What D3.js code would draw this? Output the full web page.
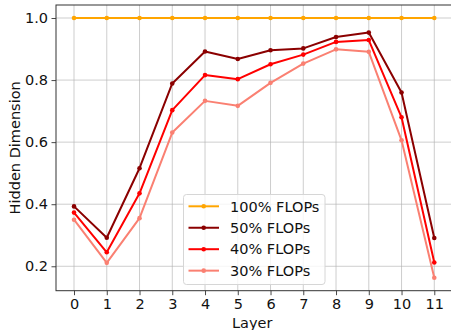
<!DOCTYPE html>
<html>
<head>
<meta charset="utf-8">
<script src="https://cdn.jsdelivr.net/npm/d3@7"></script>
<style>
  body { margin: 0; background: #fff; }
  svg { display: block; font-family: "DejaVu Sans", sans-serif; }
</style>
</head>
<body>
<svg id="chart" width="451" height="330"></svg>
<script>
const layers = [0, 1, 2, 3, 4, 5, 6, 7, 8, 9, 10, 11];
const seriesNames = ["100% FLOPs", "50% FLOPs", "40% FLOPs", "30% FLOPs"];
const seriesColors = ["#FFA500", "#8B0000", "#FF0000", "#FA8072"];
const flops100 = [1, 1, 1, 1, 1, 1, 1, 1, 1, 1, 1, 1];
const flops50 = [0.393, 0.292, 0.516, 0.789, 0.892, 0.868, 0.896, 0.902, 0.939, 0.953, 0.760, 0.291];
const flops40 = [0.373, 0.245, 0.435, 0.703, 0.816, 0.803, 0.851, 0.882, 0.923, 0.929, 0.680, 0.212];
const flops30 = [0.350, 0.211, 0.355, 0.631, 0.733, 0.717, 0.791, 0.853, 0.899, 0.891, 0.606, 0.163];
const yTicks = [0.2, 0.4, 0.6, 0.8, 1.0];
const xLabel = "Layer";
const yLabel = "Hidden Dimension";

const allSeries = [flops100, flops50, flops40, flops30];

(function () {
const svg = d3.select("#chart");
const mLeft = 56, mRight = 452.3, mTop = 5, mBottom = 290.7;
const fs = "14.5px";

const x = d3.scaleLinear().domain([-0.55, 11.55]).range([mLeft, mRight]);
const y = d3.scaleLinear().domain([0.1213, 1.0419]).range([mBottom, mTop]);

// grid
const g = svg.append("g");
g.selectAll(".vgrid").data(layers).enter().append("line")
  .attr("x1", d => x(d)).attr("x2", d => x(d))
  .attr("y1", mTop).attr("y2", mBottom)
  .attr("stroke", "#b0b0b0").attr("stroke-width", 0.8).attr("stroke-opacity", 0.8);
g.selectAll(".hgrid").data(yTicks).enter().append("line")
  .attr("x1", mLeft).attr("x2", mRight)
  .attr("y1", d => y(d)).attr("y2", d => y(d))
  .attr("stroke", "#b0b0b0").attr("stroke-width", 0.8).attr("stroke-opacity", 0.8);

// lines
const line = d3.line().x((d, i) => x(layers[i])).y(d => y(d));
allSeries.forEach((s, k) => {
  svg.append("path").datum(s)
    .attr("d", line)
    .attr("fill", "none")
    .attr("stroke", seriesColors[k])
    .attr("stroke-width", 2)
    .attr("stroke-linejoin", "round");
  svg.selectAll(".pt" + k).data(s).enter().append("circle")
    .attr("cx", (d, i) => x(layers[i]))
    .attr("cy", d => y(d))
    .attr("r", 2.3)
    .attr("fill", seriesColors[k]);
});

// axes
const xAxis = d3.axisBottom(x).tickValues(layers).tickFormat(d3.format("d")).tickSizeOuter(0).tickSize(4.5).tickPadding(3.5);
const yAxis = d3.axisLeft(y).tickValues(yTicks).tickFormat(d3.format(".1f")).tickSizeOuter(0).tickSize(4.5).tickPadding(3.5);
const gx = svg.append("g").attr("transform", `translate(0,${mBottom})`).call(xAxis);
const gy = svg.append("g").attr("transform", `translate(${mLeft},0)`).call(yAxis);
[gx, gy].forEach(a => {
  a.select(".domain").remove();
  a.selectAll("line").attr("stroke", "#333").attr("stroke-width", 0.9);
  a.selectAll("text").attr("fill", "#111").style("font-size", fs).style("font-family", "DejaVu Sans");
});

// spines
svg.append("rect").attr("x", mLeft).attr("y", mTop)
  .attr("width", mRight - mLeft).attr("height", mBottom - mTop)
  .attr("fill", "none").attr("stroke", "#333").attr("stroke-width", 1);

// axis labels
svg.append("text").attr("x", (mLeft + mRight) / 2 - 2).attr("y", 327.5)
  .attr("text-anchor", "middle").style("font-size", fs).attr("fill", "#111").text(xLabel);
svg.append("text").attr("transform", `translate(19.5,${(mTop + mBottom) / 2}) rotate(-90)`)
  .attr("text-anchor", "middle").style("font-size", fs).attr("fill", "#111").text(yLabel);

// legend
const lg = svg.append("g");
lg.append("rect").attr("x", 183.5).attr("y", 194.5).attr("width", 141.5).attr("height", 90)
  .attr("rx", 3).attr("fill", "#fff").attr("fill-opacity", 0.8)
  .attr("stroke", "#d6d6d6").attr("stroke-width", 1);
seriesNames.forEach((name, k) => {
  const yy = 206.3 + k * 21.45;
  lg.append("line").attr("x1", 188.5).attr("x2", 219).attr("y1", yy).attr("y2", yy)
    .attr("stroke", seriesColors[k]).attr("stroke-width", 2);
  lg.append("circle").attr("cx", 203.7).attr("cy", yy).attr("r", 2.3).attr("fill", seriesColors[k]);
  lg.append("text").attr("x", 230).attr("y", yy + 5.2)
    .style("font-size", fs).attr("fill", "#111").text(name);
});
})();
</script>
</body>
</html>
